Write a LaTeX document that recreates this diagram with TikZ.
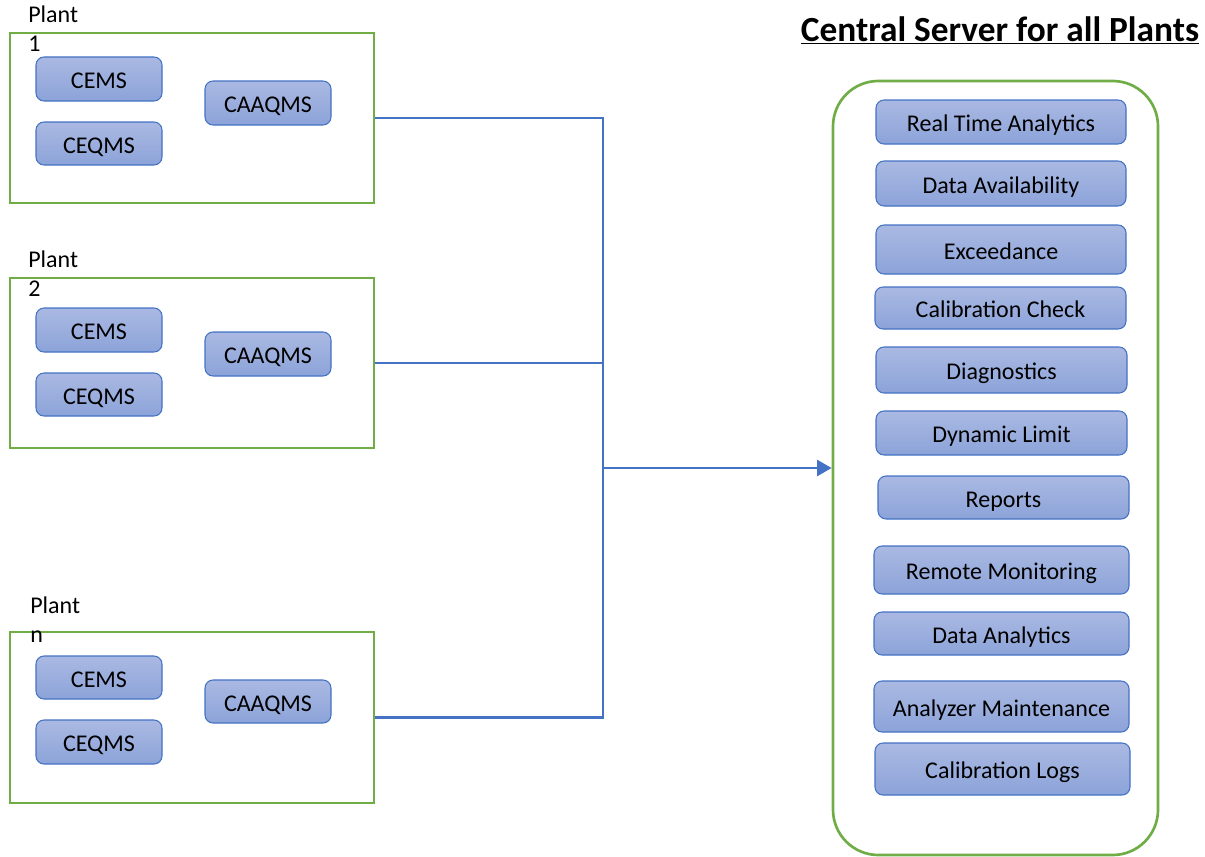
\documentclass[tikz,border=0pt]{standalone}
\usepackage{fontspec}
\setmainfont{Carlito}
\usetikzlibrary{fit,arrows.meta}

\definecolor{plantgreen}{HTML}{70AD47}
\definecolor{linkblue}{HTML}{4472C4}
\definecolor{btntop}{HTML}{AAB9E2}
\definecolor{btnbot}{HTML}{8CA3D9}

\tikzset{
  plantbox/.style={draw=plantgreen, line width=1.6pt, inner sep=0pt, fit={#1}},
  serverbox/.style={draw=plantgreen, line width=2pt, rounded corners=34pt, inner sep=0pt, fit={#1}},
  btntext/.style={inner sep=0pt, text height=11.6pt, text depth=0pt, yshift=-1.5pt,
    font=\fontsize{18}{21.75}\selectfont},
  btn/.style 2 args={draw=linkblue, line width=0.8pt, rounded corners=6pt,
    top color=btntop, bottom color=btnbot, inner sep=0pt,
    fit={#1}, label={[btntext]center:#2}},
  plantlabel/.style={anchor=north west, inner sep=0pt, align=left,
    font=\fontsize{18}{21.75}\selectfont},
  wire/.style={draw=linkblue, line width=2pt},
}

\begin{document}
\begin{tikzpicture}[x=0.75pt,y=0.75pt,yscale=-1,xscale=1]
		\useasboundingbox (0,0) rectangle (1205,856);

		% Title above the server
		\node[anchor=base, inner sep=0pt, font=\fontsize{26.5}{32}\selectfont\bfseries] (title) at (1000,41) {\underline{Central Server for all Plants}};

		% Plant 1 with its three systems
		\node[plantbox={(10,33) (374,203)}] (plant1) {};
		\node[plantlabel] (plant1 label) at (28,6) {Plant\\1};
		\node[btn={(36,57) (162,101)}{CEMS}] (cems1) {};
		\node[btn={(36,122) (162,165)}{CEQMS}] (ceqms1) {};
		\node[btn={(205,81) (331,125)}{CAAQMS}] (caaqms1) {};

		% Plant 2 with its three systems
		\node[plantbox={(10,278) (374,448)}] (plant2) {};
		\node[plantlabel] (plant2 label) at (28,251) {Plant\\2};
		\node[btn={(36,308) (162,352)}{CEMS}] (cems2) {};
		\node[btn={(36,373) (162,416)}{CEQMS}] (ceqms2) {};
		\node[btn={(205,332) (331,376)}{CAAQMS}] (caaqms2) {};

		% Plant n with its three systems
		\node[plantbox={(10,632) (374,803)}] (plantn) {};
		\node[plantlabel] (plantn label) at (30,597) {Plant\\n};
		\node[btn={(36,656) (162,699)}{CEMS}] (cemsn) {};
		\node[btn={(36,720) (162,764)}{CEQMS}] (ceqmsn) {};
		\node[btn={(205,680) (331,723)}{CAAQMS}] (caaqmsn) {};

		% Central server and its functions
		\node[serverbox={(833,81) (1158,855)}] (server) {};
		\node[btn={(876,100) (1126,144)}{Real Time Analytics}] (rta) {};
		\node[btn={(876,161) (1126,206)}{Data Availability}] (avail) {};
		\node[btn={(876,225) (1126,274)}{Exceedance}] (exceed) {};
		\node[btn={(875,287) (1126,329)}{Calibration Check}] (calcheck) {};
		\node[btn={(876,347) (1127,393)}{Diagnostics}] (diag) {};
		\node[btn={(876,411) (1127,455)}{Dynamic Limit}] (dynlimit) {};
		\node[btn={(878,476) (1129,519)}{Reports}] (reports) {};
		\node[btn={(874,546) (1129,594)}{Remote Monitoring}] (remote) {};
		\node[btn={(874,612) (1129,655)}{Data Analytics}] (analytics) {};
		\node[btn={(874,681) (1129,732)}{Analyzer Maintenance}] (maint) {};
		\node[btn={(875,743) (1130,795)}{Calibration Logs}] (callogs) {};

		% Bus joining the plants, and the arrow to the server
		\coordinate (bus) at (603,468);
		\draw[wire] (plant1.east) -- (plant1.east -| bus) -- (plantn.east -| bus) -- (plantn.east);
		\draw[wire] (plant2.east) -- (plant2.east -| bus);
		\draw[wire, -{Triangle[length=11pt,width=12pt]}] (bus) -- (server.west);
	\end{tikzpicture}
\end{document}
